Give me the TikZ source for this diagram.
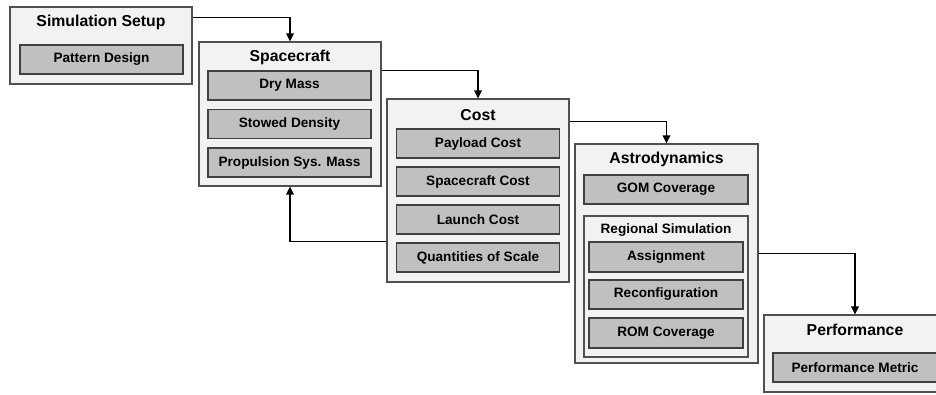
\documentclass[tikz,border=0pt]{standalone}
\usepackage{fontspec}
\setmainfont{Liberation Sans}
\usetikzlibrary{arrows.meta}
\definecolor{panelfill}{HTML}{F2F2F2}
\definecolor{panelline}{HTML}{505050}
\definecolor{itemfill}{HTML}{C0C0C0}
\definecolor{itemline}{HTML}{404040}
\begin{document}
\begin{tikzpicture}[x=1pt,y=-1pt,
  panel/.style={draw=panelline,fill=panelfill,line width=1.1pt,minimum width=182pt,inner sep=0pt},
  item/.style={draw=itemline,fill=itemfill,line width=1.1pt,minimum width=163pt,minimum height=29pt,inner sep=0pt,font=\bfseries\fontsize{13.6}{15}\selectfont},
  heading/.style={inner sep=0pt,font=\bfseries\fontsize{15.8}{18}\selectfont},
  subheading/.style={inner sep=0pt,font=\bfseries\fontsize{13.6}{15}\selectfont},
  flow/.style={line width=1.8pt,-{Triangle[length=8pt,width=7.5pt]}}]
\useasboundingbox (0,0) rectangle (936,394);
\clip (0,0) rectangle (936,394);

% Simulation setup
\node[panel,minimum height=77pt] (setup) at (101,45.5) {};
\node[heading] (setupT) at (101,22) {Simulation Setup};
\node[item] (pattern) at (101.5,59.5) {Pattern Design};

% Spacecraft
\node[panel,minimum height=144pt] (craft) at (290,114) {};
\node[heading] (craftT) at (290,57) {Spacecraft};
\node[item] (dry) at (289.5,85.5) {Dry Mass};
\node[item] (stowed) at (289.5,124) {Stowed Density};
\node[item] (prop) at (289.5,162.5) {Propulsion Sys. Mass};

% Cost
\node[panel,minimum height=183pt] (cost) at (478,190.5) {};
\node[heading] (costT) at (478,115) {Cost};
\node[item] (payload) at (478,143.5) {Payload Cost};
\node[item] (sccost) at (478,181.5) {Spacecraft Cost};
\node[item] (launch) at (478,219.5) {Launch Cost};
\node[item] (scale) at (478,257.5) {Quantities of Scale};

% Astrodynamics
\node[panel,minimum width=183pt,minimum height=219pt] (astro) at (666.5,253.5) {};
\node[heading] (astroT) at (666.5,159) {Astrodynamics};
\node[item,minimum width=164pt] (gom) at (666,189.5) {GOM Coverage};
\node[panel,minimum width=164pt,minimum height=141pt] (regional) at (666,286.5) {};
\node[subheading] (regionalT) at (666,230) {Regional Simulation};
\node[item,minimum width=154pt,minimum height=30pt] (assign) at (666,257) {Assignment};
\node[item,minimum width=154pt] (reconf) at (666,294.5) {Reconfiguration};
\node[item,minimum width=154pt,minimum height=30pt] (rom) at (666,333) {ROM Coverage};

% Performance
\node[panel,minimum height=77pt] (perf) at (855,353.5) {};
\node[heading] (perfT) at (855,330) {Performance};
\node[item,minimum width=164pt] (metric) at (855,367.5) {Performance Metric};

% Flow between stages
\draw[flow] ([yshift=-11pt]setup.north east) -| (craft.north);
\draw[flow] ([yshift=-29pt]craft.north east) -| (cost.north);
\draw[flow] ([yshift=-23pt]cost.north east) -| (astro.north);
\draw[flow] (astro.east) -| (perf.north);
\draw[flow] ([yshift=-143pt]cost.north west) -| (craft.south);
\end{tikzpicture}
\end{document}
